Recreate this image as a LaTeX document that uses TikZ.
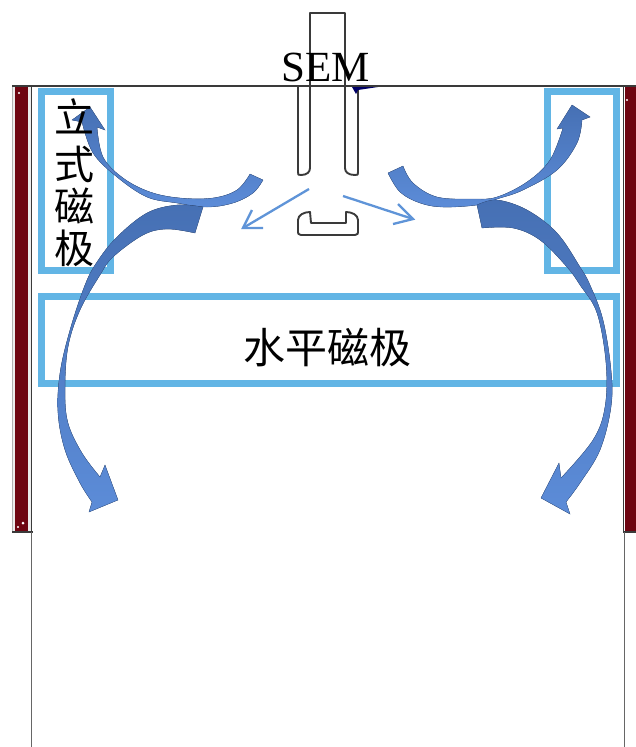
\documentclass[tikz,border=0pt]{standalone}
\usepackage{fontspec}
\setmainfont{Liberation Serif}
\newfontfamily\cjkfont{Noto Sans CJK SC}
\definecolor{barred}{HTML}{6E0511}
\definecolor{boxblue}{HTML}{62B5E5}
\definecolor{flowtop}{HTML}{4670B4}
\definecolor{flowlow}{HTML}{5C8CD8}
\definecolor{thinblue}{HTML}{5F94D8}
\definecolor{wallgrey}{HTML}{3A3A3A}
\tikzset{
  magbox/.style={draw=boxblue,line width=7pt,fill=none},
  wall/.style={draw=wallgrey,line width=2.2pt},
  thinwall/.style={draw=gray!80!black,line width=1.5pt},
  part/.style={draw=wallgrey,line width=1.9pt,line join=round},
  flow/.style={top color=flowtop,bottom color=flowlow,draw=flowtop!85!black,line width=.3pt,line join=miter},
  thinflow/.style={draw=thinblue,line width=2.3pt,line join=miter},
  label/.style={inner sep=0pt,font=\fontsize{40}{40}\selectfont\cjkfont},
}
\begin{document}
\begin{tikzpicture}[x=1pt,y=-1pt]
\useasboundingbox (0,0) rectangle (636,747);
\fill[white] (0,0) rectangle (636,747);
% side bars
\fill[gray!15] (12,86) rectangle (31,532);
\fill[gray!60] (12,86) rectangle (13.2,532);
\fill[barred] (15,87) rectangle (28,531);
\fill[barred] (625,87) rectangle (636,532);
\draw[wall,line width=1.6pt] (31.5,86) -- (31.5,532);
\draw[wall,line width=1.6pt] (12,532) -- (33,532);
\draw[wall,line width=1.6pt] (623.5,87) -- (623.5,532) -- (636,532);
\fill[white] (23,523) circle (1.5) (18,527) circle (1.2) (19,93) circle (1.2) (627,100) circle (1.2);
\draw[thinwall] (31.5,532) -- (31.5,747);
\draw[thinwall] (624.5,532) -- (624.5,747);
% magnets
\draw[magbox] (41,91) rectangle (110,270.5);
\draw[magbox] (547,91) rectangle (616,270.5);
\draw[magbox] (41,296.5) rectangle (616,383.5);
% column
\draw[part,fill=white] (310,13) rectangle (345,86);
\draw[part] (298,86) -- (298,172) .. controls (298,175) .. (301,175) .. controls (307,175) and (310,172) .. (310,168) -- (310,86);
\draw[part] (345,86) -- (345,168) .. controls (345,172) and (348,175) .. (355,175) .. controls (358,175) .. (358,172) -- (358,86);
\draw[part] (298,220) .. controls (298,215) and (304,212) .. (310,212) -- (311,223) -- (346,223) -- (346,212) .. controls (352,212) and (358,215) .. (358,220) -- (358,232) .. controls (358,234) .. (355,235) -- (301,235) .. controls (298,234) .. (298,232) -- cycle;
\draw[wall] (12,86) -- (636,86);
\fill[blue!40!black] (352,87) -- (378,87) -- (358,90) -- (356,94) -- cycle;
% thin arrows
\coordinate (lstart) at (309,189); \coordinate (ltip) at (243,228);
\coordinate (lb1) at (252,210); \coordinate (lb2) at (263,228);
\draw[thinflow] (lstart) -- (ltip);
\draw[thinflow] (lb1) -- (ltip) -- (lb2);
\coordinate (rstart) at (343,196); \coordinate (rtip) at (413,219);
\coordinate (rb1) at (398,204); \coordinate (rb2) at (393,224);
\draw[thinflow] (rstart) -- (rtip);
\draw[thinflow] (rb1) -- (rtip) -- (rb2);
% left upward arrow
\fill[flow] plot[smooth,tension=.6] coordinates {(250,174) (237,190) (213,198) (180,198) (150,192) (123,178) (103,157) (97,127)}
  -- (105,130) -- (90,107) -- (72,120) -- (82,122)
  -- plot[smooth,tension=.6] coordinates {(82,122) (93,153) (117,177) (147,197) (177,203) (207,207) (233,203) (253,193) (263,180)} -- cycle;
% right upward arrow
\fill[flow] plot[smooth,tension=.6] coordinates {(403,166) (413,183) (437,197) (473,199) (497,197) (527,182) (550,160) (563,128)}
  -- (557,129) -- (572,105) -- (590,117) -- (582,120)
  -- plot[smooth,tension=.6] coordinates {(582,120) (577,143) (557,170) (523,190) (497,199) (477,205) (443,207) (420,203) (400,192) (388,173)} -- cycle;
% left big arrow
\fill[flow] plot[smooth,tension=.6] coordinates {(203,207) (177,205) (147,213) (117,237) (97,262) (85,285) (70,330) (60,373) (58,413) (65,450) (80,483) (92,502)}
  -- (89,512) -- (118,500) -- (105,465) -- (100,477)
  -- plot[smooth,tension=.6] coordinates {(100,477) (82,453) (68,423) (65,390) (68,347) (80,310) (100,275) (113,257) (143,235) (167,229) (195,233)} -- cycle;
% right big arrow
\fill[flow] plot[smooth,tension=.6] coordinates {(477,205) (497,200) (527,210) (557,233) (580,267) (590,285) (603,320) (611,370) (611,407) (600,450) (580,483) (566,502)}
  -- (570,514) -- (541,498) -- (559,463) -- (561,478)
  -- plot[smooth,tension=.6] coordinates {(561,478) (593,440) (605,407) (606,363) (597,313) (580,285) (567,267) (540,240) (513,228) (482,228)} -- cycle;
% labels
\node[inner sep=0pt,font=\fontsize{43}{43}\selectfont] (sem) at (326,67) {SEM};
\node[label] (li) at (74,116) {立};
\node[label] (shi) at (74,164) {式};
\node[label] (ci) at (74,206) {磁};
\node[label] (ji) at (74,248) {极};
\node[label,font=\fontsize{42}{42}\selectfont\cjkfont] (horiz) at (327,348) {水平磁极};
\end{tikzpicture}
\end{document}
